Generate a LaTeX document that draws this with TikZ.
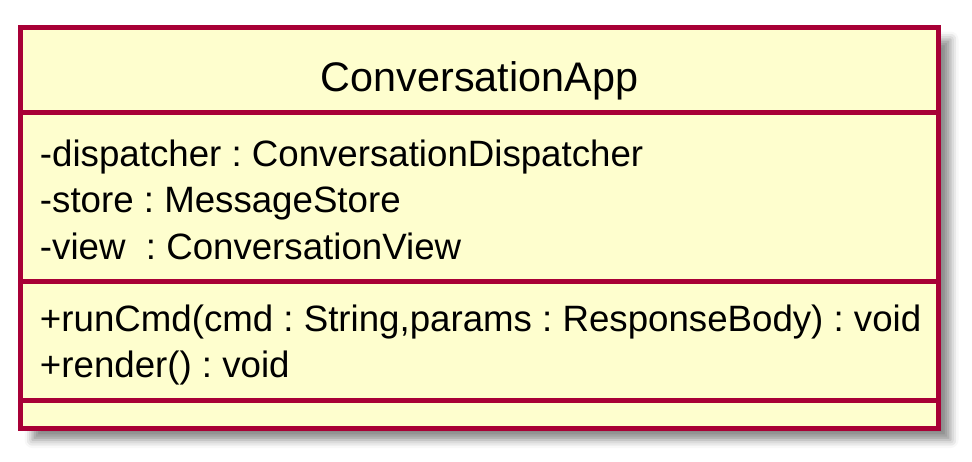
\documentclass[tikz,border=0pt]{standalone}
\usepackage{fontspec}
\setmainfont{Liberation Sans}
\usetikzlibrary{positioning, shadows.blur}
\definecolor{UmlBorder}{HTML}{A80036}
\definecolor{UmlFill}{HTML}{FEFECE}
\frenchspacing

\begin{document}
\begin{tikzpicture}[
  x=0.75pt, y=-0.75pt,
  every node/.style={inner sep=0pt, outer sep=0pt},
  title/.style={font=\fontsize{31}{36}\selectfont, anchor=base},
  member/.style={font=\fontsize{27.5}{33}\selectfont, anchor=base west},
  sepline/.style={UmlBorder, line width=3.75pt}
]
  \useasboundingbox (0,0) rectangle (972,461);
  % Class box with shadow
  \draw[sepline, fill=UmlFill, blur shadow={shadow xshift=9pt, shadow yshift=-9pt,
    shadow blur radius=6pt, shadow opacity=45}] (20.5,27.5) rectangle (938.5,428);
  \coordinate (tl) at (20.5,112);
  \coordinate (tr) at (938.5,112);
  \coordinate (al) at (20.5,281);
  \coordinate (ar) at (938.5,281);
  \coordinate (ml) at (20.5,400.5);
  \coordinate (mr) at (938.5,400.5);
  \draw[sepline] (tl) -- (tr);
  \draw[sepline] (al) -- (ar);
  \draw[sepline] (ml) -- (mr);

  % Title
  \node[title] (name) at (479.5,91) {ConversationApp};

  % Attributes
  \node[member] (dispatcher) at (40,166) {-dispatcher : ConversationDispatcher};
  \node[member] (store) at (40,212.5) {-store : MessageStore};
  \node[member] (view) at (40,259) {-view\ \ : ConversationView};

  % Methods
  \node[member] (runcmd) at (40,331) {+runCmd(cmd : String,params : ResponseBody) : void};
  \node[member] (render) at (40,377.5) {+render() : void};
\end{tikzpicture}
\end{document}
